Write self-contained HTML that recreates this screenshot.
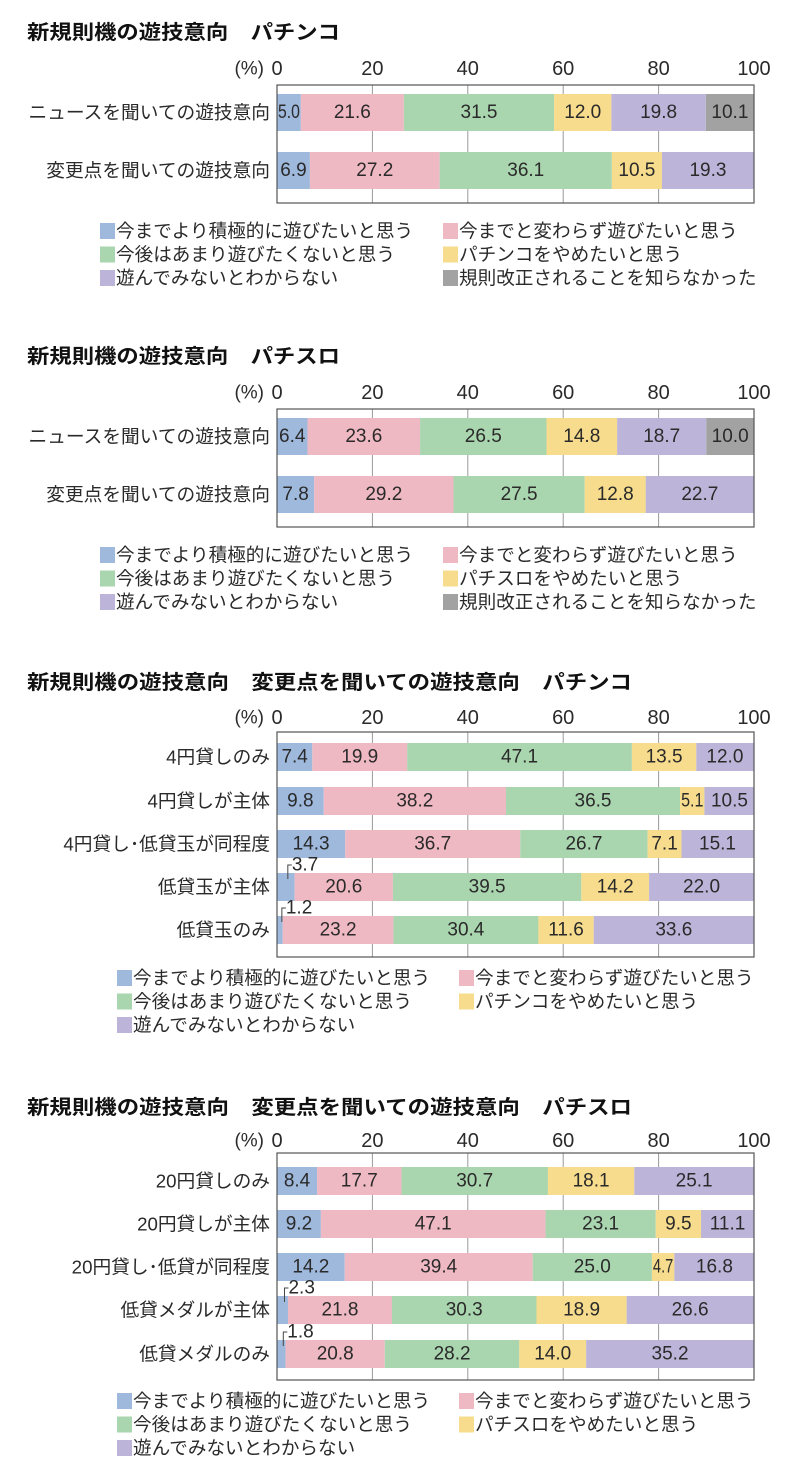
<!DOCTYPE html>
<html><head><meta charset="utf-8">
<style>
html,body{margin:0;padding:0;background:#fff;}
svg{display:block;font-family:"Liberation Sans","Noto Sans CJK JP",sans-serif;}
</style></head>
<body>
<svg id="s" width="800" height="1480" xmlns="http://www.w3.org/2000/svg"></svg>
<script>
const C=["#9fb9dd","#efb9c3","#a9d5af","#f6dc8c","#bdb5d9","#a2a2a2"];
const X0=277,W=477;
let h='';
function t(x,y,s,o){o=o||{};h+=`<text x="${x}" y="${y}" font-size="${o.fs||18.7}" fill="${o.c||'#2a2a2a'}" text-anchor="${o.a||'start'}" dominant-baseline="central" ${o.b?'font-weight="bold"':''} ${o.tl?`textLength="${o.tl}" lengthAdjust="spacingAndGlyphs"`:''}>${s}</text>`;}
function chart(cfg){
  t(27,cfg.title,cfg.tt,{b:1,fs:20,c:'#111',tl:cfg.ttw});
  t(264,cfg.tick,'(%)',{a:'end',fs:19});
  for(let i=0;i<=5;i++)t(X0+i*W/5,cfg.tick,i*20,{a:'middle',fs:20});
  for(let i=1;i<5;i++){let x=X0+i*W/5;h+=`<line x1="${x}" y1="${cfg.top}" x2="${x}" y2="${cfg.bot}" stroke="#999" stroke-width="1"/>`;}
  cfg.rows.forEach((r,ri)=>{
    let y=cfg.bars[ri],bh=cfg.bh;
    t(270,y+bh/2,r[0],{a:'end'});
    let x=X0;
    r[1].forEach((v,i)=>{
      let w=v*W/100;
      h+=`<rect x="${x}" y="${y}" width="${w}" height="${bh}" fill="${C[i]}"/>`;
      let cx=x+w/2;
      if(v<4){
        h+=`<path d="M${x+w/2+2} ${y+6} V${y-8} H${x+w/2+6}" fill="none" stroke="#444" stroke-width="1"/>`;
        t(x+w/2+6,y-8,v.toFixed(1),{fs:19});
      } else if(v<5.5){
        t(cx,y+bh/2,v.toFixed(1),{a:'middle',fs:19,tl:Math.max(w-2,10)});
      } else t(cx,y+bh/2,v.toFixed(1),{a:'middle',fs:19});
      x+=w;
    });
  });
  h+=`<rect x="${X0}" y="${cfg.top}" width="${W}" height="${cfg.bot-cfg.top}" fill="none" stroke="#555" stroke-width="1.2"/>`;
  cfg.leg.forEach((l,i)=>{
    let col=i%2,row=Math.floor(i/2);
    let x=col?cfg.lx2:cfg.lx1,y=cfg.ly+row*23.5;
    h+=`<rect x="${x}" y="${y-8}" width="15" height="16" fill="${C[i]}"/>`;
    t(x+16,y,l,{fs:18.6});
  });
}
const L1=["今までより積極的に遊びたいと思う","今までと変わらず遊びたいと思う","今後はあまり遊びたくないと思う"];
chart({title:33,tt:"新規則機の遊技意向　パチンコ",ttw:313,tick:69,top:85,bot:203,bars:[94,152],bh:37,
 rows:[["ニュースを聞いての遊技意向",[5.0,21.6,31.5,12.0,19.8,10.1]],["変更点を聞いての遊技意向",[6.9,27.2,36.1,10.5,19.3]]],
 leg:[...L1,"パチンコをやめたいと思う","遊んでみないとわからない","規則改正されることを知らなかった"],lx1:100,lx2:443,ly:231});
chart({title:357,tt:"新規則機の遊技意向　パチスロ",ttw:313,tick:393,top:409,bot:527,bars:[418,476],bh:37,
 rows:[["ニュースを聞いての遊技意向",[6.4,23.6,26.5,14.8,18.7,10.0]],["変更点を聞いての遊技意向",[7.8,29.2,27.5,12.8,22.7]]],
 leg:[...L1,"パチスロをやめたいと思う","遊んでみないとわからない","規則改正されることを知らなかった"],lx1:100,lx2:443,ly:555});
chart({title:683,tt:"新規則機の遊技意向　変更点を聞いての遊技意向　パチンコ",ttw:605,tick:718,top:732,bot:957,bars:[743,787,830,873,916],bh:28,
 rows:[["4円貸しのみ",[7.4,19.9,47.1,13.5,12.0]],["4円貸しが主体",[9.8,38.2,36.5,5.1,10.5]],["4円貸し･低貸玉が同程度",[14.3,36.7,26.7,7.1,15.1]],["低貸玉が主体",[3.7,20.6,39.5,14.2,22.0]],["低貸玉のみ",[1.2,23.2,30.4,11.6,33.6]]],
 leg:[...L1,"パチンコをやめたいと思う","遊んでみないとわからない"],lx1:117,lx2:459,ly:978});
chart({title:1108,tt:"新規則機の遊技意向　変更点を聞いての遊技意向　パチスロ",ttw:605,tick:1141,top:1153,bot:1380,bars:[1167,1210,1253,1296,1340],bh:28,
 rows:[["20円貸しのみ",[8.4,17.7,30.7,18.1,25.1]],["20円貸しが主体",[9.2,47.1,23.1,9.5,11.1]],["20円貸し･低貸が同程度",[14.2,39.4,25.0,4.7,16.8]],["低貸メダルが主体",[2.3,21.8,30.3,18.9,26.6]],["低貸メダルのみ",[1.8,20.8,28.2,14.0,35.2]]],
 leg:[...L1,"パチスロをやめたいと思う","遊んでみないとわからない"],lx1:117,lx2:459,ly:1401});
document.getElementById('s').innerHTML=h;
</script>
</body></html>
